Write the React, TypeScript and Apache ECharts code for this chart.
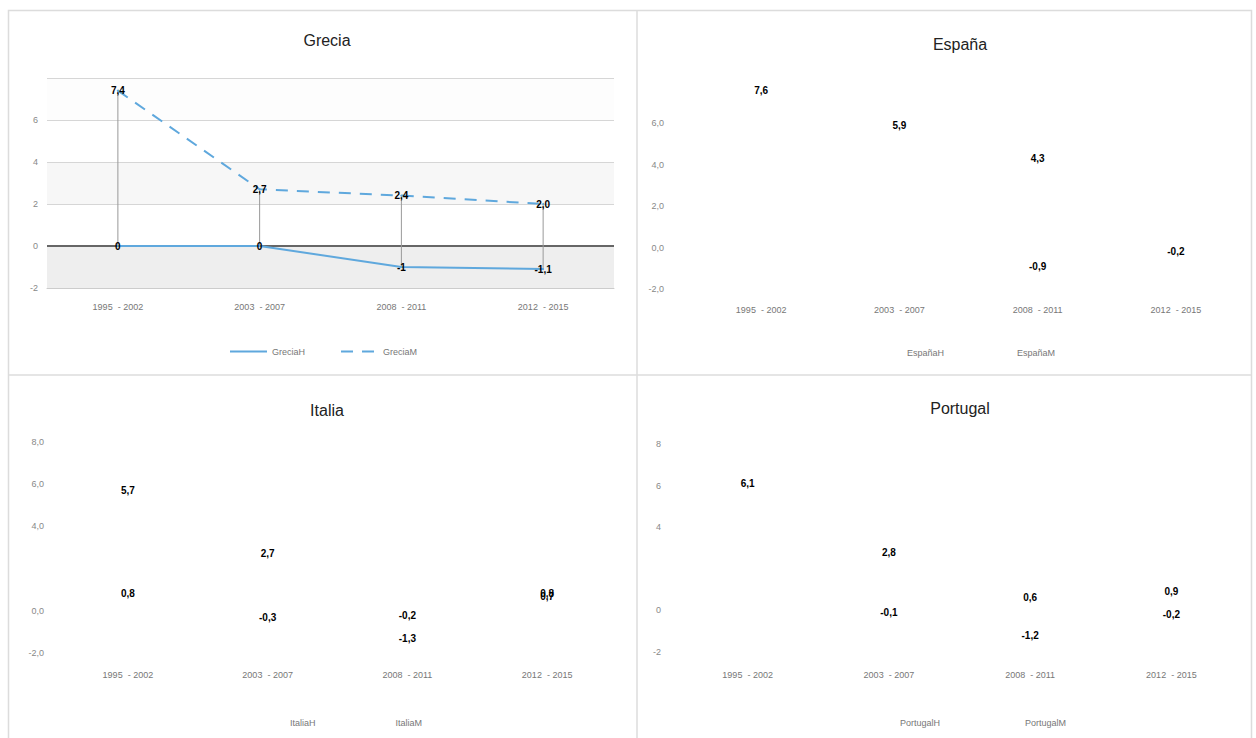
import React, { useEffect, useRef } from "react";
import * as echarts from "echarts";

const categories = ["1995  - 2002", "2003  - 2007", "2008  - 2011", "2012  - 2015"];

const greciaH = [0, 0, -1, -1.1];
const greciaM = [7.4, 2.7, 2.4, 2.0];
const espanaH = [null, null, -0.9, -0.2];
const espanaM = [7.6, 5.9, 4.3, null];
const italiaH = [0.8, -0.3, -1.3, 0.7];
const italiaM = [5.7, 2.7, -0.2, 0.8];
const portugalH = [null, -0.1, -1.2, -0.2];
const portugalM = [6.1, 2.8, 0.6, 0.9];

const panelTitles = ["Grecia", "España", "Italia", "Portugal"];
const seriesNamesH = ["GreciaH", "EspañaH", "ItaliaH", "PortugalH"];
const seriesNamesM = ["GreciaM", "EspañaM", "ItaliaM", "PortugalM"];
const yMin = -2;
const yMax = 8;
const yInterval = 2;
const hiddenTick = [8, 8, 2, 2];
const tickDecimals = [0, 1, 1, 0];

const BLUE = "#5fa8dd";
const FONT = "'Liberation Sans', Arial, sans-serif";

const comma = (v: number, d: number) => v.toFixed(d).replace(".", ",");
const plain = (v: number) => String(v).replace(".", ",");

export default function App() {
  const ref = useRef<HTMLDivElement>(null);
  useEffect(() => {
    document.body.style.margin = "0";
    const chart = echarts.init(ref.current!, undefined, { renderer: "svg" });

    const grids = [
      { left: 47, top: 78, width: 567, height: 210 },
      { left: 692, top: 82, width: 553, height: 207 },
      { left: 58, top: 442, width: 559, height: 211 },
      { left: 677, top: 444, width: 565, height: 208 },
    ];
    const yMargins = [9, 28, 14, 16];
    const xMargins = [14, 16, 17, 18];
    const titlePos = [
      [322, 27],
      [955, 31],
      [322, 397],
      [955, 395],
    ];
    const legendPos = [
      [224, 342, 35],
      [860, 343, 31],
      [243, 713, 38],
      [853, 713, 43],
    ];
    const dataH = [greciaH, espanaH, italiaH, portugalH];
    const dataM = [greciaM, espanaM, italiaM, portugalM];

    const labelBase = {
      show: true,
      position: "inside",
      color: "#000",
      fontWeight: "bold",
      fontSize: 10,
      fontFamily: FONT,
      opacity: 1,
    };

    const series: any[] = [];
    for (let k = 0; k < 4; k++) {
      const visible = k === 0;
      series.push({
        type: "line",
        name: seriesNamesH[k],
        xAxisIndex: k,
        yAxisIndex: k,
        data: dataH[k],
        symbol: "circle",
        symbolSize: visible ? 2 : 1,
        itemStyle: { color: visible ? BLUE : "transparent" },
        lineStyle: { color: visible ? BLUE : "transparent", width: visible ? 2 : 0 },
        z: 3,
        label: {
          ...labelBase,
          formatter: (p: any) => (k === 0 ? plain(p.value) : comma(p.value, 1)),
        },
        markLine: visible
          ? {
              silent: true,
              symbol: "none",
              label: { show: false },
              lineStyle: { color: "#666", width: 2, type: "solid" },
              data: [{ yAxis: 0 }],
              z: 2,
            }
          : undefined,
      });
      series.push({
        type: "line",
        name: seriesNamesM[k],
        xAxisIndex: k,
        yAxisIndex: k,
        data: dataM[k],
        symbol: "circle",
        symbolSize: visible ? 2 : 1,
        itemStyle: { color: visible ? BLUE : "transparent" },
        lineStyle: {
          color: visible ? BLUE : "transparent",
          width: visible ? 2 : 0,
          type: [12, 9],
        },
        z: 3,
        label: {
          ...labelBase,
          formatter: (p: any) => comma(p.value, 1),
        },
      });
    }
    // high-low drop lines for Grecia
    series.push({
      type: "custom",
      xAxisIndex: 0,
      yAxisIndex: 0,
      z: 2,
      silent: true,
      data: categories.map((_, i) => [i, greciaM[i], greciaH[i]]),
      encode: { x: 0, y: [1, 2] },
      renderItem: (params: any, api: any) => {
        const a = api.coord([api.value(0), api.value(1)]);
        const b = api.coord([api.value(0), api.value(2)]);
        return {
          type: "line",
          shape: { x1: a[0], y1: a[1], x2: b[0], y2: b[1] },
          style: { stroke: "#999", lineWidth: 1 },
        };
      },
    });

    const option: any = {
      animation: false,
      backgroundColor: "#fff",
      textStyle: { fontFamily: FONT },
      title: panelTitles.map((t, k) => ({
        text: t,
        left: titlePos[k][0],
        top: titlePos[k][1],
        textAlign: "center",
        textStyle: { fontSize: 16, fontWeight: "normal", color: "#222", fontFamily: FONT },
      })),
      legend: [0, 1, 2, 3].map((k) => ({
        data: [seriesNamesH[k], seriesNamesM[k]],
        left: legendPos[k][0],
        top: legendPos[k][1],
        itemGap: legendPos[k][2],
        itemWidth: 37,
        itemHeight: 10,
        orient: "horizontal",
        selectedMode: false,
        itemStyle: { color: "transparent", borderColor: "transparent", borderWidth: 0 },
        textStyle: { fontSize: 9, color: "#777", fontFamily: FONT },
      })),
      grid: grids,
      xAxis: grids.map((_, k) => ({
        type: "category",
        gridIndex: k,
        data: categories,
        boundaryGap: true,
        axisLine: {
          show: k === 0,
          lineStyle: { color: "#ccc" },
          onZero: false,
        },
        axisTick: { show: false },
        axisLabel: {
          color: "#777",
          fontSize: 9,
          margin: xMargins[k],
          fontFamily: FONT,
        },
        splitLine: { show: false },
      })),
      yAxis: grids.map((_, k) => ({
        type: "value",
        gridIndex: k,
        min: yMin,
        max: yMax,
        interval: yInterval,
        axisLine: { show: false },
        axisTick: { show: false },
        axisLabel: {
          color: "#888",
          fontSize: 9,
          margin: yMargins[k],
          fontFamily: FONT,
          formatter: (v: number) =>
            v === hiddenTick[k] ? "" : tickDecimals[k] ? comma(v, 1) : String(v),
        },
        splitLine: {
          show: k === 0,
          lineStyle: { color: "#d6d6d6", width: 1 },
        },
        splitArea: {
          show: k === 0,
          areaStyle: { color: ["#eeeeee", "#ffffff", "#f7f7f7", "#ffffff", "#fdfdfd"] },
        },
      })),
      series,
      graphic: [
        {
          type: "rect",
          shape: { x: 8.5, y: 10.5, width: 1243, height: 740 },
          style: { fill: "none", stroke: "#dcdcdc", lineWidth: 1.5 },
          silent: true,
        },
        {
          type: "line",
          shape: { x1: 637, y1: 10, x2: 637, y2: 738 },
          style: { stroke: "#dcdcdc", lineWidth: 1.5 },
          silent: true,
        },
        {
          type: "line",
          shape: { x1: 8, y1: 375, x2: 1252, y2: 375 },
          style: { stroke: "#dcdcdc", lineWidth: 1.5 },
          silent: true,
        },
      ],
    };
    chart.setOption(option);
    return () => chart.dispose();
  }, []);
  return <div ref={ref} style={{ width: 1256, height: 738 }} />;
}
